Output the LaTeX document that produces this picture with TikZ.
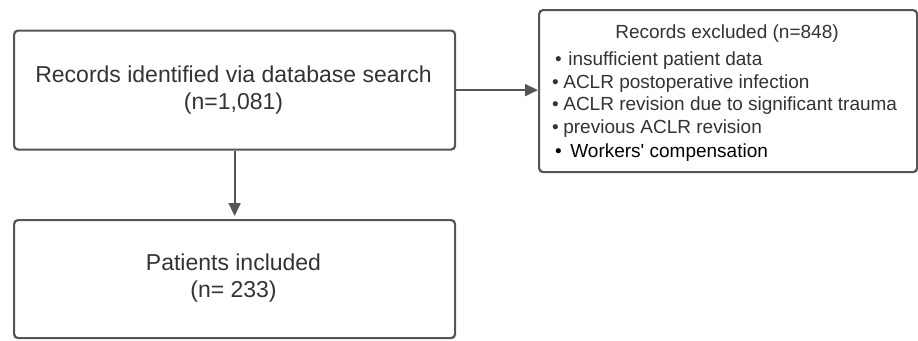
\documentclass[tikz,border=0pt]{standalone}
\usepackage{fontspec}
\setmainfont{Liberation Sans}
\usetikzlibrary{arrows.meta,calc}
\definecolor{edge}{HTML}{555555}
\definecolor{txt}{HTML}{333333}
\tikzset{
  box/.style={draw=edge, line width=2.2pt, rounded corners=4pt, fill=white, inner sep=0pt, anchor=north west},
  bigtxt/.style={font=\fontsize{23}{27}\selectfont, text=txt, inner sep=0pt, anchor=base},
  smalltxt/.style={font=\fontsize{19}{23}\selectfont, text=txt, inner sep=0pt, anchor=base west},
  conn/.style={draw=edge, line width=1.8pt, -{Triangle[length=13pt,width=12pt]}}
}
\begin{document}
\begin{tikzpicture}[x=1pt,y=1pt]
\useasboundingbox (0,0) rectangle (918,-340);
% boxes
\node[box, minimum width=441pt, minimum height=119pt] (b1) at (13,-29.5) {};
\node[box, minimum width=441pt, minimum height=118pt] (b2) at (13,-219) {};
\node[box, minimum width=378pt, minimum height=162pt] (b3) at (538,-9) {};
% texts
\node[bigtxt] (t1a) at (233.5,-82) {Records identified via database search};
\node[bigtxt] (t1b) at (233.5,-109) {(n=1,081)};
\node[bigtxt] (t2a) at (233.5,-270) {Patients included};
\node[bigtxt] (t2b) at (233.5,-297) {(n= 233)};
\node[smalltxt, anchor=base] (t3) at (727,-38) {Records excluded (n=848)};
\node[smalltxt] (l1) at (555,-65) {•\hspace{6.5pt}insufficient patient data};
\node[smalltxt] (l2) at (552,-88) {•\hspace{4.5pt}ACLR postoperative infection};
\node[smalltxt] (l3) at (552,-110.5) {•\hspace{4.5pt}ACLR revision due to significant trauma};
\node[smalltxt] (l4) at (552,-133.5) {•\hspace{4.5pt}previous ACLR revision};
\node[smalltxt, text=black] (l5) at (555,-157) {•\hspace{8.5pt}Workers\textquotesingle{} compensation};
% connectors
\draw[conn] (b1.south) -- ([yshift=3pt]b2.north);
\draw[conn] (b1.east) -- (b1.east -| b3.west);
\end{tikzpicture}
\end{document}
